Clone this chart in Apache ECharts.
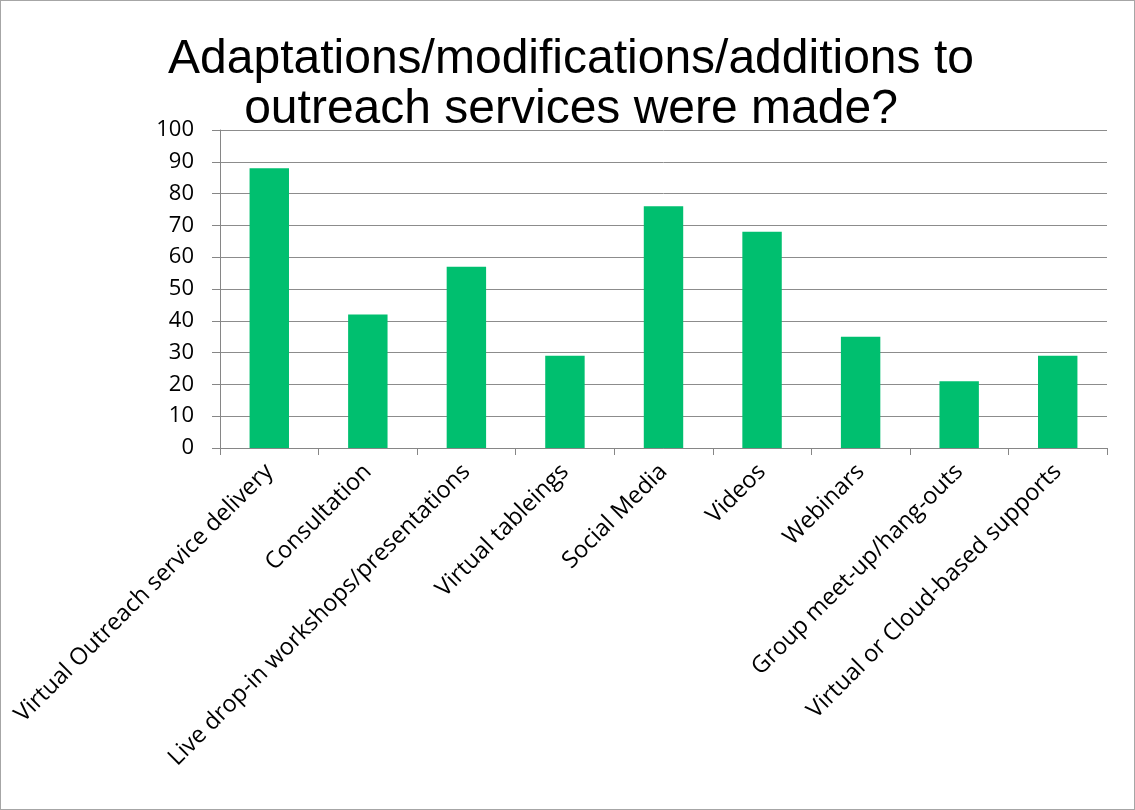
<!DOCTYPE html>
<html>
<head>
<meta charset="utf-8">
<script src="https://cdn.jsdelivr.net/npm/echarts@6/dist/echarts.min.js"></script>
<style>
  html, body { margin: 0; padding: 0; background: #fff; }
  #content { width: 1133px; height: 808px; border: 1px solid #a6a6a6; }
</style>
</head>
<body>
<div id="content"></div>
<script>
// 数据
var categories = ['Virtual Outreach service delivery', 'Consultation', 'Live drop-in workshops/presentations',
    'Virtual tableings', 'Social Media', 'Videos', 'Webinars', 'Group meet-up/hang-outs', 'Virtual or Cloud-based supports'];
var values = [88, 42, 57, 29, 76, 68, 35, 21, 29];

var myChart = echarts.init(document.getElementById('content'));
var option = {
    title: {
        text: 'Adaptations/modifications/additions to\noutreach services were made?',
        left: 565,
        textAlign: 'center',
        top: 29,
        textStyle: {
            fontFamily: 'Liberation Sans',
            fontWeight: 'normal',
            fontSize: 48,
            lineHeight: 50,
            color: '#000'
        }
    },
    color: ['#00bf6f'],
    grid: {
        left: 219,
        right: 27,
        top: 129,
        bottom: 361
    },
    xAxis: {
        type: 'category',
        data: categories,
        axisTick: { show: true, length: 7, lineStyle: { color: '#868686' } },
        axisLine: { lineStyle: { color: '#868686', width: 1 } },
        axisLabel: {
            rotate: 45,
            interval: 0,
            margin: 20,
            fontFamily: 'Open Sans',
            fontSize: 23.5,
            color: '#000'
        }
    },
    yAxis: {
        type: 'value',
        min: 0,
        max: 100,
        interval: 10,
        axisLine: { show: true, lineStyle: { color: '#868686' } },
        axisTick: { show: true, length: 8, lineStyle: { color: '#868686' } },
        splitLine: { lineStyle: { color: '#8c8c8c' } },
        axisLabel: {
            fontFamily: 'Open Sans',
            fontSize: 22,
            color: '#000',
            margin: 26
        }
    },
    series: [{
        type: 'bar',
        barWidth: '40%',
        data: values
    }]
};
myChart.setOption(option);
</script>
</body>
</html>
